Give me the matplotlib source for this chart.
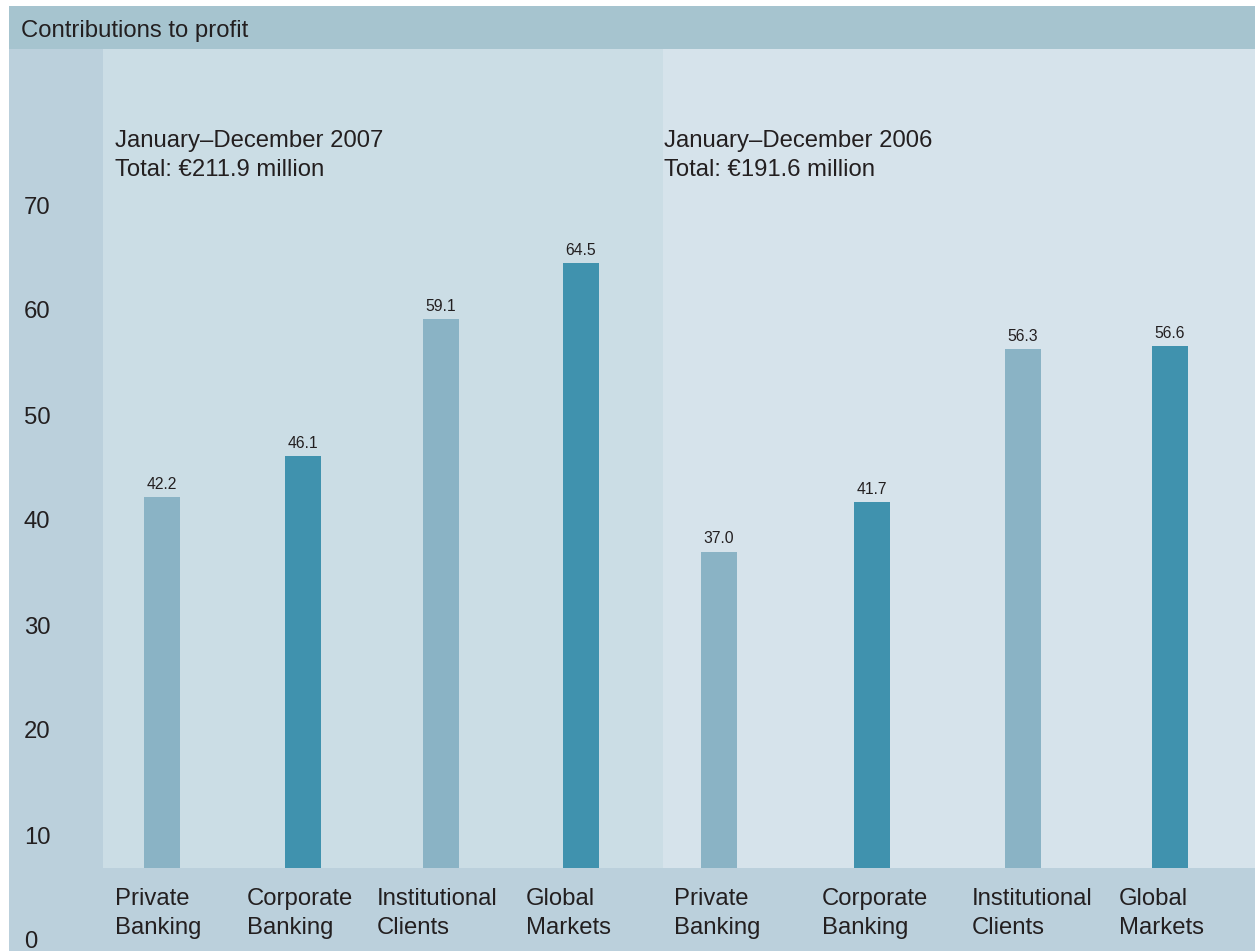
import matplotlib
matplotlib.use('Agg')
import matplotlib.pyplot as plt
from matplotlib.patches import Rectangle
from matplotlib.transforms import Affine2D

# ---- data ----
title = "Contributions to profit"
segments = ["Private\nBanking", "Corporate\nBanking", "Institutional\nClients", "Global\nMarkets"]
period_labels = ["January–December 2007\nTotal: €211.9 million",
                 "January–December 2006\nTotal: €191.6 million"]
values_2007 = [42.2, 46.1, 59.1, 64.5]
values_2006 = [37.0, 41.7, 56.3, 56.6]
y_ticks = [0, 10, 20, 30, 40, 50, 60, 70]

# ---- style ----
plt.rcParams['font.family'] = ['Liberation Sans', 'DejaVu Sans']
FS = 17.2
TXT = '#231f20'
C_SIDE = '#bbd0dc'
C_BAND = '#a6c4cf'
C_P07 = '#cbdde5'
C_P06 = '#d6e3eb'
C_LIGHT = '#8ab3c5'
C_DARK = '#4092ae'
bar_colors = [C_LIGHT, C_DARK, C_LIGHT, C_DARK]

W, H = 1255, 951
fig = plt.figure(figsize=(W / 100, H / 100), dpi=100)
fig.patch.set_facecolor('white')
pix = Affine2D().scale(1, -1).translate(0, H)  # pixel coords, origin top-left

# outer background and title band
fig.patches.append(Rectangle((9, 6), W - 9, H - 6, transform=pix, facecolor=C_SIDE,
                             edgecolor='none', zorder=-10))
fig.patches.append(Rectangle((9, 6), W - 9, 43, transform=pix, facecolor=C_BAND,
                             edgecolor='none', zorder=-9))
fig.text(21, 36.5, title, transform=pix, fontsize=FS, color=TXT, va='baseline', ha='left')

# axes: x in pixel units, y in value units
S = 10.5           # pixels per unit
Y0 = 940           # pixel row of value 0
ax_left, ax_top, ax_bottom = 103, 49, 951
ax = fig.add_axes([ax_left / W, 1 - ax_bottom / H, (W - ax_left) / W, (ax_bottom - ax_top) / H])
ax.set_facecolor('none')
ax.set_xlim(ax_left, W)
ax.set_ylim((Y0 - ax_bottom) / S, (Y0 - ax_top) / S)
for s in ax.spines.values():
    s.set_visible(False)
ax.set_xticks([])

panel_bottom = (Y0 - 868) / S
panel_top = (Y0 - ax_top) / S
split = 663
p07 = Rectangle((ax_left, panel_bottom), split - ax_left, panel_top - panel_bottom,
                facecolor=C_P07, edgecolor='none', zorder=0)
p06 = Rectangle((split, panel_bottom), W - split, panel_top - panel_bottom,
                facecolor=C_P06, edgecolor='none', zorder=0)
ax.add_patch(p07)
ax.add_patch(p06)

centers_2007 = [162, 303, 441, 581]
centers_2006 = [719, 872, 1023, 1170]
label_x_2007 = [115, 247, 377, 526]
label_x_2006 = [674, 822, 972, 1119]

for centers, vals, panel, lx in [(centers_2007, values_2007, p07, label_x_2007),
                                  (centers_2006, values_2006, p06, label_x_2006)]:
    bars = ax.bar(centers, vals, width=36, color=bar_colors, zorder=2)
    for b in bars:
        b.set_clip_path(panel)
    for c, v in zip(centers, vals):
        ax.annotate(f"{v:.1f}", (c, v), xytext=(0, 5.8), textcoords='offset points',
                    ha='center', va='baseline', fontsize=11.3, color=TXT, zorder=3)
    for x, seg in zip(lx, segments):
        fig.text(x, 888, seg, transform=pix, fontsize=FS, color=TXT, ha='left', va='top',
                 linespacing=1.42)

# period headers
for x, lbl in zip([115, 664], period_labels):
    l1, l2 = lbl.split('\n')
    fig.text(x, 147.5, l1, transform=pix, fontsize=FS, color=TXT, ha='left', va='baseline')
    fig.text(x, 176.5, l2, transform=pix, fontsize=FS, color=TXT, ha='left', va='baseline')

# y tick labels
ax.set_yticks(y_ticks)
ax.set_yticklabels([str(t) for t in y_ticks])
ax.tick_params(axis='y', length=0, pad=(ax_left - 24) * 0.72, labelsize=FS, labelcolor=TXT)
for lab in ax.get_yticklabels():
    lab.set_horizontalalignment('left')

fig.savefig('out.png', dpi=100, facecolor=fig.get_facecolor())
